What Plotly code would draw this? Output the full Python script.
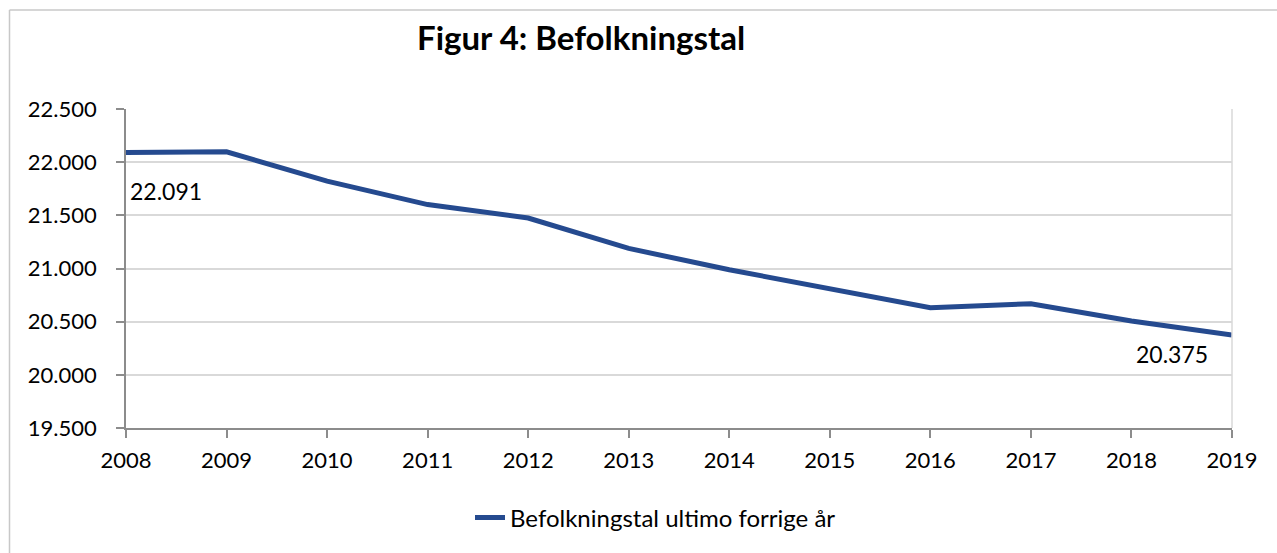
import plotly.graph_objects as go

years = [2008, 2009, 2010, 2011, 2012, 2013, 2014, 2015, 2016, 2017, 2018, 2019]
population = [22091, 22097, 21822, 21601, 21475, 21189, 20988, 20811, 20632, 20668, 20507, 20375]
series_name = "Befolkningstal ultimo forrige år"
title_text = "Figur 4: Befolkningstal"
y_ticks = [19500, 20000, 20500, 21000, 21500, 22000, 22500]

W, H = 1277, 553
ml, mr, mt, mb = 126, 45, 109, 125
pw, ph = W - ml - mr, H - mt - mb

def px_x(p):
    return (p - ml) / pw

def px_y(p):
    return (H - mb - p) / ph

font = "Lato, 'Open Sans', sans-serif"
line_color = "#254a8f"

fig = go.Figure()
fig.add_trace(go.Scatter(
    x=years, y=population, mode="lines", name=series_name,
    line=dict(color=line_color, width=5),
))

# data labels for first and last point
fig.add_annotation(x=years[0], y=population[0], text=f"{population[0]:,}".replace(",", "."),
                   showarrow=False, xanchor="left", yanchor="top", xshift=2, yshift=-23,
                   font=dict(family=font, size=23, color="#000000"))
fig.add_annotation(x=years[-1], y=population[-1], text=f"{population[-1]:,}".replace(",", "."),
                   showarrow=False, xanchor="right", yanchor="top", xshift=-22, yshift=-3,
                   font=dict(family=font, size=23, color="#000000"))

# title
fig.add_annotation(x=px_x(581), y=px_y(37), xref="paper", yref="paper", text=f"<b>{title_text}</b>",
                   showarrow=False, xanchor="center", yanchor="middle",
                   font=dict(family=font, size=33, color="#000000"))

shapes = [
    # outer chart frame (top and left visible)
    dict(type="line", xref="paper", yref="paper", x0=px_x(9.5), x1=px_x(1290), y0=px_y(10), y1=px_y(10),
         line=dict(color="#c8c8c8", width=1.5)),
    dict(type="line", xref="paper", yref="paper", x0=px_x(9.5), x1=px_x(9.5), y0=px_y(10), y1=px_y(560),
         line=dict(color="#c8c8c8", width=1.5)),
    # right plot border
    dict(type="line", xref="paper", yref="paper", x0=1, x1=1, y0=0, y1=1,
         line=dict(color="#d9d9d9", width=1.5)),
]

fig.update_layout(
    width=W, height=H,
    margin=dict(l=ml, r=mr, t=mt, b=mb, autoexpand=False),
    paper_bgcolor="white", plot_bgcolor="white",
    separators=",.",
    showlegend=True,
    legend=dict(orientation="h", x=px_x(470), y=px_y(518), xanchor="left", yanchor="middle",
                font=dict(family=font, size=24, color="#000000")),
    shapes=shapes,
    xaxis=dict(range=[years[0], years[-1]], tickmode="array", tickvals=years,
               ticktext=[str(y) for y in years],
               showgrid=False, zeroline=False, showline=True, linecolor="#8c8c8c", linewidth=1.5,
               ticks="outside", ticklen=8, tickcolor="#8c8c8c", tickwidth=1.5, ticklabelstandoff=4,
               tickfont=dict(family=font, size=22, color="#000000")),
    yaxis=dict(range=[y_ticks[0], y_ticks[-1]], tickmode="array", tickvals=y_ticks,
               ticktext=[f"{v:,}".replace(",", ".") for v in y_ticks],
               showgrid=True, gridcolor="#d9d9d9", gridwidth=1.5, zeroline=False,
               showline=True, linecolor="#8c8c8c", linewidth=1.5,
               ticks="outside", ticklen=8, tickcolor="#8c8c8c", tickwidth=1.5, ticklabelstandoff=15,
               tickfont=dict(family=font, size=22, color="#000000")),
)

fig.write_html("out.html", config={"displayModeBar": False},
               post_script="document.body.style.margin='0';")
